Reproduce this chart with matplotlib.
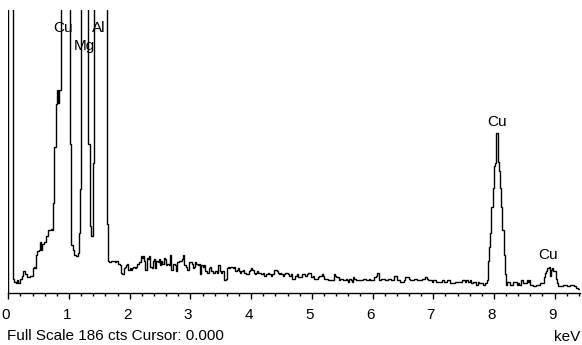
import numpy as np
import matplotlib
matplotlib.use("Agg")
import matplotlib.pyplot as plt
from matplotlib.ticker import MultipleLocator
from matplotlib.transforms import ScaledTranslation, Bbox

plt.rcParams["font.family"] = ["Liberation Sans", "DejaVu Sans"]

# EDS spectrum, 0.02 keV channels, counts (values above 186 are off scale)
channel_kev = 0.02
full_scale = 186

counts_0_2kev = [
    2500, 2500, 2500, 2500, 9, 7, 6, 8, 6, 6,
    9, 11, 14, 14, 12, 10, 10, 10, 11, 11,
    16, 17, 16, 25, 27, 28, 33, 28, 32, 33,
    33, 37, 37, 41, 41, 42, 41, 59, 96, 124,
    133, 125, 133, 420, 780, 1150, 1400, 1250, 900, 520,
    240, 98, 31, 28, 25, 25, 24, 26, 39, 68,
    310, 720, 980, 850, 520, 250, 98, 44, 37, 37,
    85, 300, 620, 1000, 1350, 1500, 1300, 950, 620, 380,
    230, 45, 21, 20, 20, 21, 21, 21, 20, 21,
    19, 19, 18, 13, 12, 16, 17, 18, 19, 15,
]
counts_2_4kev = [
    16, 15, 16, 17, 16, 17, 19, 19, 20, 24,
    23, 24, 21, 15, 23, 22, 24, 17, 16, 21,
    22, 16, 21, 20, 22, 18, 21, 19, 23, 22,
    18, 19, 18, 25, 15, 15, 19, 18, 14, 20,
    20, 21, 21, 22, 25, 18, 17, 15, 15, 20,
    20, 19, 16, 17, 20, 19, 18, 19, 12, 18,
    17, 18, 14, 14, 13, 16, 17, 14, 14, 13,
    14, 14, 13, 18, 14, 13, 14, 14, 8, 9,
    16, 17, 16, 17, 17, 16, 17, 14, 15, 16,
    14, 13, 14, 15, 13, 13, 12, 12, 14, 15,
]
counts_4_6kev = [
    16, 15, 13, 12, 13, 14, 13, 13, 12, 12,
    13, 11, 12, 12, 13, 12, 11, 12, 12, 15,
    15, 14, 13, 12, 13, 12, 11, 12, 13, 13,
    12, 11, 11, 12, 9, 9, 11, 11, 12, 10,
    10, 10, 12, 12, 11, 11, 12, 13, 13, 10,
    10, 11, 9, 9, 9, 10, 11, 11, 12, 11,
    9, 9, 9, 8, 8, 8, 8, 8, 12, 11,
    10, 10, 8, 9, 9, 9, 8, 8, 9, 8,
    7, 9, 8, 7, 10, 9, 8, 8, 8, 8,
    8, 8, 9, 9, 9, 8, 8, 9, 8, 8,
]
counts_6_8kev = [
    8, 10, 10, 11, 13, 8, 8, 9, 9, 9,
    8, 8, 8, 9, 9, 8, 8, 8, 11, 11,
    8, 8, 8, 7, 7, 7, 8, 10, 10, 10,
    9, 8, 8, 8, 9, 9, 9, 8, 8, 8,
    8, 9, 9, 10, 10, 9, 8, 8, 8, 7,
    8, 8, 7, 7, 7, 7, 7, 8, 8, 7,
    7, 8, 8, 8, 6, 6, 6, 6, 7, 7,
    7, 7, 7, 7, 8, 8, 7, 8, 8, 7,
    8, 6, 6, 7, 7, 5, 5, 7, 6, 6,
    6, 5, 5, 6, 8, 21, 30, 39, 56, 69,
]
counts_8_10kev = [
    83, 85, 105, 86, 80, 69, 56, 41, 25, 12,
    5, 7, 7, 5, 5, 5, 7, 7, 7, 5,
    6, 5, 8, 8, 6, 6, 6, 8, 7, 8,
    5, 5, 4, 4, 4, 5, 5, 5, 6, 6,
    6, 10, 13, 14, 16, 17, 11, 15, 16, 14,
    14, 9, 6, 4, 4, 4, 4, 5, 5, 5,
    4, 4, 4, 5, 5, 5, 4, 4, 3, 2, 2, 2,
]

# peak labels: text, energy (keV), baseline height (counts)
peak_labels = ["Cu", "Mg", "Al", "Cu", "Cu"]
peak_kev = [0.91, 1.255, 1.49, 8.05, 8.90]
peak_text_y = [171.6, 159.5, 171.6, 109.4, 22.0]

counts = np.array(counts_0_2kev + counts_2_4kev + counts_4_6kev
                  + counts_6_8kev + counts_8_10kev, dtype=float)
edges = np.arange(len(counts) + 1) * channel_kev

W, H = 582, 345
base_y = 292.5
fig = plt.figure(figsize=(W / 100, H / 100), dpi=100)
ax = fig.add_axes([8.3 / W, (H - base_y) / H, (580 - 8.3) / W, (base_y - 10) / H])

ax.stairs(counts, edges, baseline=0, color="black", lw=1.0)

for txt, xk, yk in zip(peak_labels, peak_kev, peak_text_y):
    ax.text(xk, yk, txt, ha="center", va="baseline", fontsize=11, color="black")

ax.set_xlim(0, 9.418)
ax.set_ylim(0, full_scale)

for side in ["left", "right", "top"]:
    ax.spines[side].set_visible(False)
ax.spines["bottom"].set_linewidth(1.0)

ax.xaxis.set_major_locator(MultipleLocator(1))
ax.xaxis.set_minor_locator(MultipleLocator(0.2))
ax.tick_params(axis="x", which="major", direction="out", length=4.3, width=1.0,
               pad=7, labelsize=11)
ax.tick_params(axis="x", which="minor", direction="out", length=2.4, width=1.0)
ax.set_yticks([])

# labels sit a little left of their ticks; the "0" is cut by the image edge
shift = ScaledTranslation(-2.3 / 100, 0, fig.dpi_scale_trans)
for lbl in ax.get_xticklabels():
    lbl.set_transform(lbl.get_transform() + shift)
zero_lbl = ax.get_xticklabels()[0]
zero_lbl.set_clip_box(Bbox([[6.5, 0], [W, H]]))
zero_lbl.set_clip_on(True)

fig.text(7.3 / W, (H - 339.8) / H, "Full Scale 186 cts Cursor: 0.000",
         ha="left", va="baseline", fontsize=11)
fig.text(580 / W, (H - 340.7) / H, "keV", ha="right", va="baseline", fontsize=11)

fig.savefig("out.png", dpi=100)
